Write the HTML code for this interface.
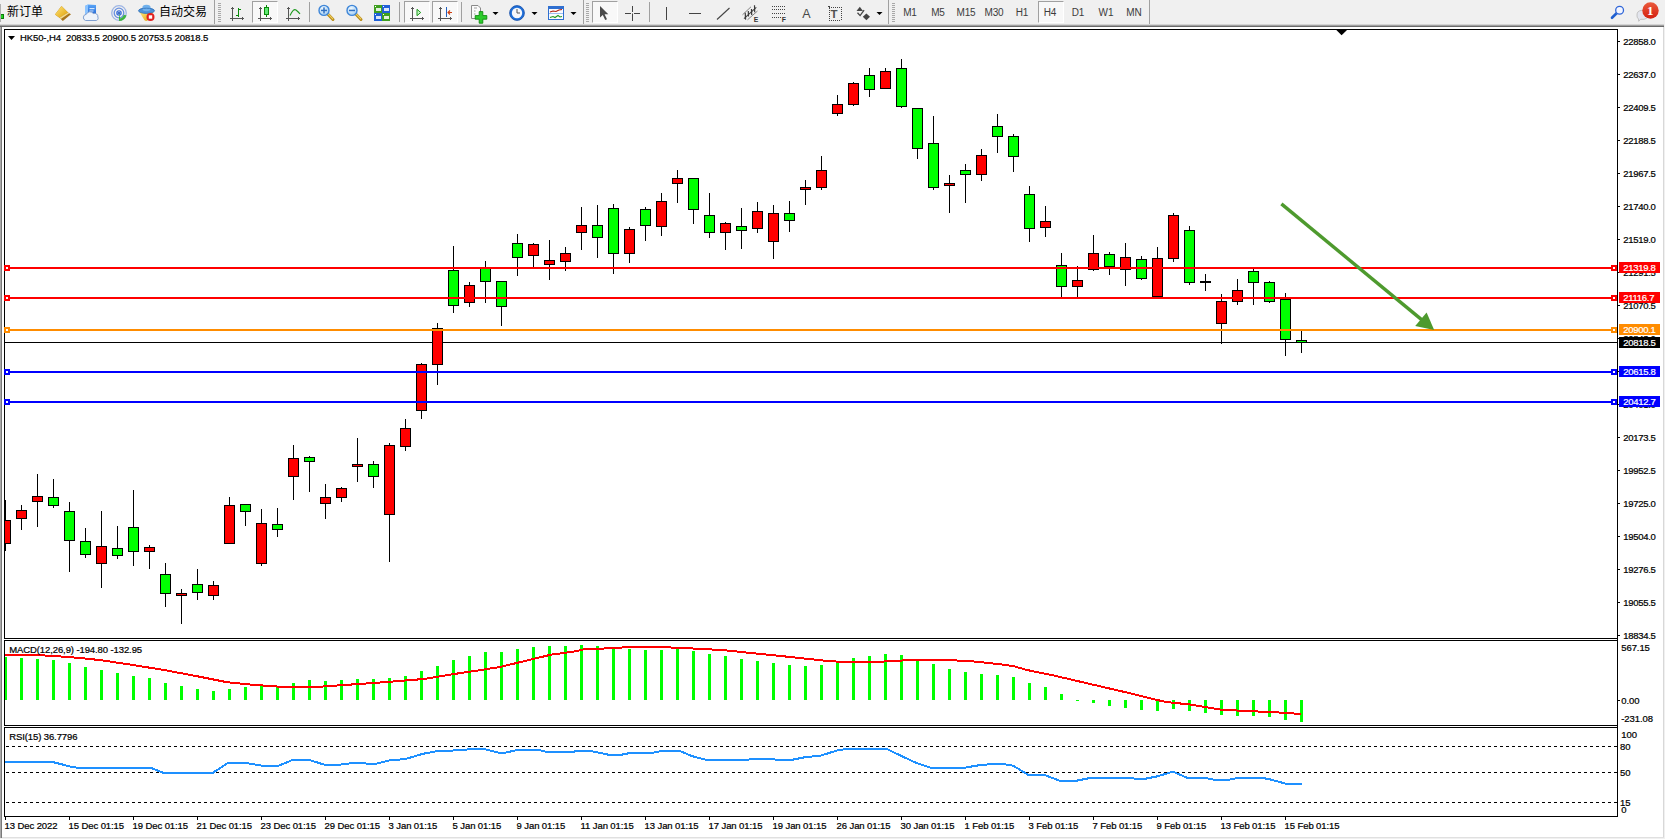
<!DOCTYPE html>
<html><head><meta charset="utf-8"><title>HK50-,H4</title>
<style>
html,body{margin:0;padding:0;background:#fff;}
body{width:1665px;height:839px;position:relative;overflow:hidden;font-family:"Liberation Sans","Noto Sans CJK SC",sans-serif;}
#tb{position:absolute;left:0;top:0;width:1665px;height:24px;background:#f0f0f0;}
#tbb{position:absolute;left:0;top:24px;width:1664px;height:3px;background:linear-gradient(#d4d4d4 0,#d4d4d4 33%,#a0a0a0 33%,#a0a0a0 66%,#696969 66%,#696969 100%);}
.cj{position:absolute;top:4px;font-size:12px;line-height:16px;color:#000;font-family:"Liberation Sans","Noto Sans CJK SC",sans-serif;white-space:nowrap;}
.tf{position:absolute;top:6px;width:28px;text-align:center;font-size:10px;line-height:14px;color:#3c3c3c;letter-spacing:-0.1px}
.pb{position:absolute;top:1px;height:20px;border-top:1px solid #a0a0a0;border-left:1px solid #a0a0a0;border-right:1px solid #fff;border-bottom:1px solid #fff;background:#f8f8f8;box-sizing:content-box}
.sep{position:absolute;top:2px;width:1px;height:20px;background:#a0a0a0}
.sepf{position:absolute;top:0;width:1px;height:24px;background:#a0a0a0}
.grip{position:absolute;top:3px;width:3px;height:19px;background:repeating-linear-gradient(#a8a8a8 0,#a8a8a8 1px,#f0f0f0 1px,#f0f0f0 2px)}
svg{position:absolute;left:0;top:0}
svg text{font-family:"Liberation Sans",sans-serif;font-size:9.5px;letter-spacing:-0.1px;fill:#000;stroke:#000;stroke-width:.22px}
svg text.wt{fill:#fff;stroke:#fff}
svg text.ns{stroke:none}
svg text.ax{letter-spacing:-0.3px}
</style></head><body>

<div id="tb">
<div class="cj" style="left:7px">新订单</div>
<div class="cj" style="left:159px">自动交易</div>
<div class="sepf" style="left:214px"></div>
<div class="sepf" style="left:583px"></div>
<div class="sepf" style="left:888px"></div>
<div class="sepf" style="left:1149px"></div>
<div class="sep" style="left:309px"></div>
<div class="sep" style="left:399px"></div>
<div class="sep" style="left:461px"></div>
<div class="sep" style="left:649px"></div>
<div class="grip" style="left:218px"></div>
<div class="grip" style="left:586px"></div>
<div class="grip" style="left:892px"></div>
<div class="pb" style="left:252px;width:24px"></div>
<div class="pb" style="left:404px;width:24px"></div>
<div class="pb" style="left:432px;width:24px"></div>
<div class="pb" style="left:592px;width:24px"></div>
<div class="pb" style="left:1038px;width:24px"></div>
<div class="tf" style="left:896px">M1</div>
<div class="tf" style="left:924px">M5</div>
<div class="tf" style="left:952px">M15</div>
<div class="tf" style="left:980px">M30</div>
<div class="tf" style="left:1008px">H1</div>
<div class="tf" style="left:1036px">H4</div>
<div class="tf" style="left:1064px">D1</div>
<div class="tf" style="left:1092px">W1</div>
<div class="tf" style="left:1120px">MN</div>
</div><div id="tbb"></div>
<svg width="1665" height="24" viewBox="0 0 1665 24">
<defs>
<linearGradient id="gold" x1="0" y1="0" x2="1" y2="1"><stop offset="0" stop-color="#ffe680"/><stop offset="0.7" stop-color="#e8b428"/><stop offset="1" stop-color="#c89020"/></linearGradient>
<linearGradient id="blu" x1="0" y1="0" x2="0" y2="1"><stop offset="0" stop-color="#5aa6f8"/><stop offset="1" stop-color="#1c5fd0"/></linearGradient>
<linearGradient id="grn" x1="0" y1="0" x2="1" y2="0"><stop offset="0" stop-color="#7df08a"/><stop offset="1" stop-color="#22c038"/></linearGradient>
<radialGradient id="lens" cx="0.4" cy="0.35" r="0.7"><stop offset="0" stop-color="#f4fbff"/><stop offset="1" stop-color="#9ccaf2"/></radialGradient>
<linearGradient id="redb" x1="0" y1="0" x2="0" y2="1"><stop offset="0" stop-color="#ea5a3c"/><stop offset="1" stop-color="#d42010"/></linearGradient>
</defs>
<rect x="0" y="14" width="4" height="5" fill="#0a7a0a"/><rect x="0" y="15" width="3" height="3" fill="#22d022"/><rect x="0" y="4" width="1" height="18" fill="#b0b0b0"/>
<polygon points="61.5,6 68,12.5 71,14.2 62.8,21 59.5,17.8 55,14.6" fill="#a8741a"/><polygon points="61.5,6 68,12.5 59.5,17.8 55,14.6" fill="url(#gold)"/><polygon points="68,12.5 69.3,13.3 60.8,19 59.5,17.8" fill="#f4dc90"/>
<polygon points="85,6 88,4.5 96,5 96,16 85,16" fill="url(#blu)"/><polygon points="85,6 88,4.5 88,16 85,16" fill="#8cc4ff"/><rect x="89.5" y="8" width="5" height="1.2" fill="#cfe6ff"/><rect x="89.5" y="10.5" width="4" height="1" fill="#cfe6ff"/>
<path d="M85.5 20.5 a3.2 3.2 0 0 1 0.8 -6.2 a4 4 0 0 1 7 -0.8 a3.4 3.4 0 0 1 4.6 3.6 a2.4 2.4 0 0 1 -1.6 3.4 z" fill="#eef3fa" stroke="#7f9fd0" stroke-width="1"/>
<g fill="none" stroke="#3a6fd8"><circle cx="119" cy="13" r="7.3" stroke-opacity="0.45" stroke-width="1.3"/><circle cx="119" cy="13" r="4.8" stroke-opacity="0.75" stroke-width="1.3"/><circle cx="119" cy="13" r="2.1" stroke-width="1.4"/></g>
<path d="M119 13 L119 21 A8 8 0 0 0 126.5 15.5 L124 14.8 A5.4 5.4 0 0 1 120.2 18.4 Z" fill="#2fb02f" opacity="0.9"/><circle cx="119" cy="13" r="1.1" fill="#1a4fc0"/>
<path d="M139.5 12 L153.5 12 L147.5 20.5 Q146 21.5 144.5 20.2 Z" fill="url(#gold)"/><ellipse cx="146.5" cy="10.5" rx="8" ry="3" fill="#4f93d8"/><ellipse cx="146.5" cy="8" rx="4.2" ry="3.2" fill="#6fb0ec"/><ellipse cx="146.5" cy="10.8" rx="8" ry="2.6" fill="none" stroke="#2f6fb8" stroke-width="0.8"/>
<circle cx="150.5" cy="17" r="4" fill="#e02020"/><rect x="148.8" y="15.3" width="3.4" height="3.4" fill="#fff"/>
<g fill="#555" shape-rendering="crispEdges"><rect x="232" y="7" width="1" height="14"/><rect x="231" y="8" width="3" height="1"/><rect x="230" y="18" width="14" height="1"/><rect x="242" y="17" width="1" height="3"/></g>
<g fill="#0a8a0a" shape-rendering="crispEdges"><rect x="238" y="8" width="1" height="9"/><rect x="239" y="9" width="2" height="1"/><rect x="236" y="15" width="2" height="1"/></g>
<g fill="#555" shape-rendering="crispEdges"><rect x="260" y="7" width="1" height="14"/><rect x="259" y="8" width="3" height="1"/><rect x="258" y="18" width="14" height="1"/><rect x="270" y="17" width="1" height="3"/></g>
<g shape-rendering="crispEdges"><rect x="266" y="5" width="1" height="12" fill="#0a8a0a"/><rect x="264" y="7" width="5" height="8" fill="#0a8a0a"/><rect x="265" y="8" width="3" height="6" fill="#5fe873"/></g>
<g fill="#555" shape-rendering="crispEdges"><rect x="288" y="7" width="1" height="14"/><rect x="287" y="8" width="3" height="1"/><rect x="286" y="18" width="14" height="1"/><rect x="298" y="17" width="1" height="3"/></g>
<path d="M290 15.5 Q293.5 8 296 10 T300 14" fill="none" stroke="#1f9a1f" stroke-width="1.1"/>
<line x1="327.5" y1="13.8" x2="333" y2="19.5" stroke="#b88a18" stroke-width="3" stroke-linecap="round"/><line x1="327.8" y1="13.6" x2="332.8" y2="18.8" stroke="#f0d060" stroke-width="1.2" stroke-linecap="round"/><circle cx="324" cy="10.4" r="5" fill="url(#lens)" stroke="#3f86d8" stroke-width="1.4"/><rect x="321" y="9.7" width="6" height="1.5" fill="#2f6fc0"/><rect x="323.25" y="7.4" width="1.5" height="6" fill="#2f6fc0"/>
<line x1="355.5" y1="13.8" x2="361" y2="19.5" stroke="#b88a18" stroke-width="3" stroke-linecap="round"/><line x1="355.8" y1="13.6" x2="360.8" y2="18.8" stroke="#f0d060" stroke-width="1.2" stroke-linecap="round"/><circle cx="352" cy="10.4" r="5" fill="url(#lens)" stroke="#3f86d8" stroke-width="1.4"/><rect x="349" y="9.7" width="6" height="1.5" fill="#2f6fc0"/>
<g shape-rendering="crispEdges"><rect x="374" y="5" width="8" height="8" fill="#3fa020"/><rect x="382" y="5" width="8" height="8" fill="#2060d8"/><rect x="374" y="13" width="8" height="8" fill="#2060d8"/><rect x="382" y="13" width="8" height="8" fill="#3fa020"/>
<rect x="376" y="8" width="5" height="3" fill="#fff" fill-opacity="0.85"/><rect x="375" y="6" width="1" height="1" fill="#fff"/>
<rect x="384" y="8" width="5" height="3" fill="#fff" fill-opacity="0.85"/><rect x="383" y="6" width="1" height="1" fill="#fff"/>
<rect x="376" y="16" width="5" height="3" fill="#fff" fill-opacity="0.85"/><rect x="375" y="14" width="1" height="1" fill="#fff"/>
<rect x="384" y="16" width="5" height="3" fill="#fff" fill-opacity="0.85"/><rect x="383" y="14" width="1" height="1" fill="#fff"/>
</g>
<g fill="#555" shape-rendering="crispEdges"><rect x="412" y="7" width="1" height="14"/><rect x="411" y="8" width="3" height="1"/><rect x="410" y="18" width="14" height="1"/><rect x="422" y="17" width="1" height="3"/></g>
<polygon points="417,9.3 417,15.7 420.7,12.5" fill="#c8f4c8" stroke="#1a9a1a" stroke-width="1"/>
<g fill="#555" shape-rendering="crispEdges"><rect x="440" y="7" width="1" height="14"/><rect x="439" y="8" width="3" height="1"/><rect x="438" y="18" width="14" height="1"/><rect x="450" y="17" width="1" height="3"/></g>
<rect x="446" y="7" width="1" height="10" fill="#2060c0" shape-rendering="crispEdges"/><path d="M452 12.5 L448 12.5 M450 10.5 L448 12.5 L450 14.5" stroke="#d04010" stroke-width="1.1" fill="none"/>
<path d="M471.5 5.5 h6.5 l2.5 2.5 v10.5 h-9 z" fill="#fafafa" stroke="#8a8a8a" stroke-width="1"/><path d="M474 8 h3 M474 11 h1.5 M474 14 h1.5" stroke="#a0a0a0" stroke-width="1"/>
<path d="M479.2 11.6 h3.6 v4 h4 v3.6 h-4 v4 h-3.6 v-4 h-4 v-3.6 h4 z" fill="#2ccc2c" stroke="#0f8a0f" stroke-width="0.9"/>
<polygon points="492.5,12 498.5,12 495.5,15" fill="#000"/>
<polygon points="531.5,12 537.5,12 534.5,15" fill="#000"/>
<polygon points="570.5,12 576.5,12 573.5,15" fill="#000"/>
<polygon points="876.5,12 882.5,12 879.5,15" fill="#000"/>
<circle cx="517" cy="13" r="7.4" fill="#1f6fd8"/><circle cx="517" cy="13" r="7.4" fill="none" stroke="#184fa8" stroke-width="0.8"/><circle cx="517" cy="13" r="5.2" fill="#f6f8fc"/><path d="M517 9 v4 h3" stroke="#555" stroke-width="1" fill="none"/>
<rect x="548.5" y="6.5" width="15" height="13" fill="#fafcff" stroke="#2f6fd0" stroke-width="1"/><rect x="548" y="6" width="16" height="3" fill="#2f6fd0"/><rect x="549" y="13" width="14" height="1" fill="#9cc0f0"/>
<path d="M550 12 l3 -1 l3 0.5 l3 -1.5 l3 -0.5" stroke="#b02010" stroke-width="1.1" fill="none"/><path d="M550 17.5 l3 -1 l2 1 l3 -2 l2 1.5 l2 -0.5" stroke="#1f9a1f" stroke-width="1.1" fill="none"/>
<polygon points="600,6 600,17.5 602.8,15 605.2,20 607,19.2 604.6,14.3 608.3,14.3" fill="#4a4a4a"/>
<g fill="#444" shape-rendering="crispEdges"><rect x="632" y="6" width="1" height="6"/><rect x="632" y="14" width="1" height="7"/><rect x="625" y="13" width="6" height="1"/><rect x="634" y="13" width="6" height="1"/><rect x="632" y="13" width="1" height="1" fill="#999"/></g>
<rect x="666" y="7" width="1" height="13" fill="#444" shape-rendering="crispEdges"/><rect x="689" y="13" width="12" height="1" fill="#444" shape-rendering="crispEdges"/><line x1="717" y1="19.5" x2="729.5" y2="8" stroke="#444" stroke-width="1.1"/>
<g fill="none"><line x1="742.5" y1="14.8" x2="751" y2="6.8" stroke="#777" stroke-width="0.9"/><line x1="747.5" y1="19.8" x2="757.5" y2="11" stroke="#777" stroke-width="0.9"/><line x1="744" y1="18.7" x2="756.3" y2="7.4" stroke="#444" stroke-width="1.1"/>
<g stroke="#3a3a3a" stroke-width="1.2"><line x1="745.6" y1="19.6" x2="745.2" y2="12.8"/><line x1="748.5" y1="16.6" x2="748.3" y2="11"/><line x1="751.7" y1="15" x2="751.5" y2="9"/><line x1="754.7" y1="12.3" x2="754.5" y2="5.2"/></g></g>
<text class="ns" x="753.8" y="22" style="font-size:6.8px;font-weight:bold;fill:#333;letter-spacing:0">E</text>
<line x1="772" y1="6.5" x2="786" y2="6.5" stroke="#444" stroke-width="1" stroke-dasharray="1 1" shape-rendering="crispEdges"/>
<line x1="772" y1="9.5" x2="786" y2="9.5" stroke="#444" stroke-width="1" stroke-dasharray="1 1" shape-rendering="crispEdges"/>
<line x1="772" y1="13.5" x2="786" y2="13.5" stroke="#444" stroke-width="1" stroke-dasharray="1 1" shape-rendering="crispEdges"/>
<line x1="772" y1="17.5" x2="781" y2="17.5" stroke="#444" stroke-width="1" stroke-dasharray="1 1" shape-rendering="crispEdges"/>
<text class="ns" x="781.8" y="22" style="font-size:6.8px;font-weight:bold;fill:#333;letter-spacing:0">F</text>
<text class="ns" x="802.3" y="17.7" style="font-size:12.5px;fill:#484848;letter-spacing:0">A</text>
<rect x="829" y="7" width="12" height="13" fill="none" stroke="#444" stroke-width="1" stroke-dasharray="1 1" shape-rendering="crispEdges"/><rect x="828" y="6" width="2" height="1" fill="#444"/>
<text class="ns" x="830.6" y="17.7" style="font-size:11.5px;fill:#505050;letter-spacing:0;font-weight:bold">T</text>
<polygon points="856.5,11 859.8,6.8 863,11" fill="#444"/><path d="M857.5 12.8 l2.6 2.8 l4 -5.4" stroke="#444" stroke-width="1.3" fill="none"/><polygon points="866.4,13.6 870,16.8 866.4,20.2 862.8,16.8" fill="#444"/>
<line x1="1612" y1="17.8" x2="1616.6" y2="13.3" stroke="#1f5fd0" stroke-width="2.6" stroke-linecap="round"/><circle cx="1619.6" cy="10.3" r="3.9" fill="#f4f6ff" stroke="#2f66d8" stroke-width="1.3"/>
<path d="M1637 15 a5.5 4.6 0 1 1 7 4.3 h-3.5 l-1.8 2 l-0.2 -2.3 a5 4.5 0 0 1 -1.5 -4 z" fill="#e4e6ee" stroke="#b8b8b8" stroke-width="0.8"/>
<circle cx="1650.5" cy="10.5" r="8.2" fill="url(#redb)"/><text class="ns" x="1647" y="15" style="font-family:'Liberation Serif',serif;font-size:13px;font-weight:bold;fill:#fff;letter-spacing:0">1</text>
</svg>
<svg width="1665" height="839" viewBox="0 0 1665 839">
<g shape-rendering="crispEdges">
<rect x="0" y="27" width="1" height="811" fill="#a9a9a9"/><rect x="1" y="27" width="1" height="811" fill="#7a7a7a"/>
<rect x="1663" y="27" width="1" height="811" fill="#d8d8d8"/><rect x="1664" y="24" width="1" height="815" fill="#f0f0f0"/><rect x="2" y="837" width="1662" height="1" fill="#e0e0e0"/><rect x="0" y="838" width="1665" height="1" fill="#f0f0f0"/>
<rect x="4" y="29" width="1614" height="1" fill="#000"/><rect x="4" y="638" width="1614" height="1" fill="#000"/>
<rect x="4" y="640" width="1614" height="1" fill="#000"/><rect x="4" y="725" width="1614" height="1" fill="#000"/>
<rect x="4" y="727" width="1614" height="1" fill="#000"/><rect x="4" y="816" width="1614" height="1" fill="#000"/>
<rect x="4" y="29" width="1" height="610" fill="#000"/><rect x="4" y="640" width="1" height="86" fill="#000"/><rect x="4" y="727" width="1" height="90" fill="#000"/>
<rect x="1617" y="29" width="1" height="788" fill="#000"/>
<rect x="1618" y="41" width="2" height="1" fill="#000"/>
<rect x="1618" y="74" width="2" height="1" fill="#000"/>
<rect x="1618" y="107" width="2" height="1" fill="#000"/>
<rect x="1618" y="140" width="2" height="1" fill="#000"/>
<rect x="1618" y="173" width="2" height="1" fill="#000"/>
<rect x="1618" y="206" width="2" height="1" fill="#000"/>
<rect x="1618" y="239" width="2" height="1" fill="#000"/>
<rect x="1618" y="272" width="2" height="1" fill="#000"/>
<rect x="1618" y="305" width="2" height="1" fill="#000"/>
<rect x="1618" y="338" width="2" height="1" fill="#000"/>
<rect x="1618" y="371" width="2" height="1" fill="#000"/>
<rect x="1618" y="404" width="2" height="1" fill="#000"/>
<rect x="1618" y="437" width="2" height="1" fill="#000"/>
<rect x="1618" y="470" width="2" height="1" fill="#000"/>
<rect x="1618" y="503" width="2" height="1" fill="#000"/>
<rect x="1618" y="536" width="2" height="1" fill="#000"/>
<rect x="1618" y="569" width="2" height="1" fill="#000"/>
<rect x="1618" y="602" width="2" height="1" fill="#000"/>
<rect x="1618" y="635" width="2" height="1" fill="#000"/>
<rect x="1618" y="700" width="2" height="1" fill="#000"/>
<rect x="5" y="817" width="1" height="3" fill="#000"/>
<rect x="69" y="817" width="1" height="3" fill="#000"/>
<rect x="133" y="817" width="1" height="3" fill="#000"/>
<rect x="197" y="817" width="1" height="3" fill="#000"/>
<rect x="261" y="817" width="1" height="3" fill="#000"/>
<rect x="325" y="817" width="1" height="3" fill="#000"/>
<rect x="389" y="817" width="1" height="3" fill="#000"/>
<rect x="453" y="817" width="1" height="3" fill="#000"/>
<rect x="517" y="817" width="1" height="3" fill="#000"/>
<rect x="581" y="817" width="1" height="3" fill="#000"/>
<rect x="645" y="817" width="1" height="3" fill="#000"/>
<rect x="709" y="817" width="1" height="3" fill="#000"/>
<rect x="773" y="817" width="1" height="3" fill="#000"/>
<rect x="837" y="817" width="1" height="3" fill="#000"/>
<rect x="901" y="817" width="1" height="3" fill="#000"/>
<rect x="965" y="817" width="1" height="3" fill="#000"/>
<rect x="1029" y="817" width="1" height="3" fill="#000"/>
<rect x="1093" y="817" width="1" height="3" fill="#000"/>
<rect x="1157" y="817" width="1" height="3" fill="#000"/>
<rect x="1221" y="817" width="1" height="3" fill="#000"/>
<rect x="1285" y="817" width="1" height="3" fill="#000"/>
<polygon points="1336.3,30 1347,30 1341.6,35.3" fill="#000" shape-rendering="auto"/>
<rect x="5" y="342" width="1612" height="1" fill="#000"/>
</g>
<defs><clipPath id="cm"><rect x="5" y="30" width="1612" height="608"/></clipPath><clipPath id="c2"><rect x="5" y="641" width="1612" height="84"/></clipPath><clipPath id="c3"><rect x="5" y="728" width="1612" height="88"/></clipPath></defs>
<g shape-rendering="crispEdges" clip-path="url(#cm)">
<rect x="5" y="500" width="1" height="51" fill="#000"/>
<rect x="0" y="520" width="11" height="24" fill="#000"/>
<rect x="1" y="521" width="9" height="22" fill="#f00"/>
<rect x="21" y="505" width="1" height="25" fill="#000"/>
<rect x="16" y="510" width="11" height="9" fill="#000"/>
<rect x="17" y="511" width="9" height="7" fill="#f00"/>
<rect x="37" y="474" width="1" height="53" fill="#000"/>
<rect x="32" y="496" width="11" height="6" fill="#000"/>
<rect x="33" y="497" width="9" height="4" fill="#f00"/>
<rect x="53" y="479" width="1" height="29" fill="#000"/>
<rect x="48" y="497" width="11" height="9" fill="#000"/>
<rect x="49" y="498" width="9" height="7" fill="#0f0"/>
<rect x="69" y="502" width="1" height="70" fill="#000"/>
<rect x="64" y="511" width="11" height="30" fill="#000"/>
<rect x="65" y="512" width="9" height="28" fill="#0f0"/>
<rect x="85" y="528" width="1" height="30" fill="#000"/>
<rect x="80" y="541" width="11" height="14" fill="#000"/>
<rect x="81" y="542" width="9" height="12" fill="#0f0"/>
<rect x="101" y="511" width="1" height="77" fill="#000"/>
<rect x="96" y="546" width="11" height="18" fill="#000"/>
<rect x="97" y="547" width="9" height="16" fill="#f00"/>
<rect x="117" y="526" width="1" height="33" fill="#000"/>
<rect x="112" y="548" width="11" height="8" fill="#000"/>
<rect x="113" y="549" width="9" height="6" fill="#0f0"/>
<rect x="133" y="490" width="1" height="76" fill="#000"/>
<rect x="128" y="527" width="11" height="25" fill="#000"/>
<rect x="129" y="528" width="9" height="23" fill="#0f0"/>
<rect x="149" y="545" width="1" height="24" fill="#000"/>
<rect x="144" y="547" width="11" height="5" fill="#000"/>
<rect x="145" y="548" width="9" height="3" fill="#f00"/>
<rect x="165" y="563" width="1" height="44" fill="#000"/>
<rect x="160" y="574" width="11" height="20" fill="#000"/>
<rect x="161" y="575" width="9" height="18" fill="#0f0"/>
<rect x="181" y="589" width="1" height="35" fill="#000"/>
<rect x="176" y="593" width="11" height="3" fill="#000"/>
<rect x="177" y="594" width="9" height="1" fill="#f00"/>
<rect x="197" y="569" width="1" height="31" fill="#000"/>
<rect x="192" y="584" width="11" height="9" fill="#000"/>
<rect x="193" y="585" width="9" height="7" fill="#0f0"/>
<rect x="213" y="581" width="1" height="19" fill="#000"/>
<rect x="208" y="585" width="11" height="11" fill="#000"/>
<rect x="209" y="586" width="9" height="9" fill="#f00"/>
<rect x="229" y="497" width="1" height="47" fill="#000"/>
<rect x="224" y="505" width="11" height="39" fill="#000"/>
<rect x="225" y="506" width="9" height="37" fill="#f00"/>
<rect x="245" y="504" width="1" height="22" fill="#000"/>
<rect x="240" y="504" width="11" height="8" fill="#000"/>
<rect x="241" y="505" width="9" height="6" fill="#0f0"/>
<rect x="261" y="509" width="1" height="57" fill="#000"/>
<rect x="256" y="523" width="11" height="41" fill="#000"/>
<rect x="257" y="524" width="9" height="39" fill="#f00"/>
<rect x="277" y="508" width="1" height="29" fill="#000"/>
<rect x="272" y="524" width="11" height="6" fill="#000"/>
<rect x="273" y="525" width="9" height="4" fill="#0f0"/>
<rect x="293" y="445" width="1" height="55" fill="#000"/>
<rect x="288" y="458" width="11" height="19" fill="#000"/>
<rect x="289" y="459" width="9" height="17" fill="#f00"/>
<rect x="309" y="456" width="1" height="36" fill="#000"/>
<rect x="304" y="457" width="11" height="5" fill="#000"/>
<rect x="305" y="458" width="9" height="3" fill="#0f0"/>
<rect x="325" y="484" width="1" height="35" fill="#000"/>
<rect x="320" y="497" width="11" height="7" fill="#000"/>
<rect x="321" y="498" width="9" height="5" fill="#f00"/>
<rect x="341" y="487" width="1" height="15" fill="#000"/>
<rect x="336" y="488" width="11" height="10" fill="#000"/>
<rect x="337" y="489" width="9" height="8" fill="#f00"/>
<rect x="357" y="438" width="1" height="44" fill="#000"/>
<rect x="352" y="464" width="11" height="3" fill="#000"/>
<rect x="353" y="465" width="9" height="1" fill="#f00"/>
<rect x="373" y="461" width="1" height="27" fill="#000"/>
<rect x="368" y="464" width="11" height="13" fill="#000"/>
<rect x="369" y="465" width="9" height="11" fill="#0f0"/>
<rect x="389" y="443" width="1" height="119" fill="#000"/>
<rect x="384" y="445" width="11" height="70" fill="#000"/>
<rect x="385" y="446" width="9" height="68" fill="#f00"/>
<rect x="405" y="419" width="1" height="32" fill="#000"/>
<rect x="400" y="428" width="11" height="19" fill="#000"/>
<rect x="401" y="429" width="9" height="17" fill="#f00"/>
<rect x="421" y="363" width="1" height="56" fill="#000"/>
<rect x="416" y="364" width="11" height="47" fill="#000"/>
<rect x="417" y="365" width="9" height="45" fill="#f00"/>
<rect x="437" y="323" width="1" height="62" fill="#000"/>
<rect x="432" y="328" width="11" height="37" fill="#000"/>
<rect x="433" y="329" width="9" height="35" fill="#f00"/>
<rect x="453" y="246" width="1" height="67" fill="#000"/>
<rect x="448" y="270" width="11" height="36" fill="#000"/>
<rect x="449" y="271" width="9" height="34" fill="#0f0"/>
<rect x="469" y="282" width="1" height="25" fill="#000"/>
<rect x="464" y="285" width="11" height="18" fill="#000"/>
<rect x="465" y="286" width="9" height="16" fill="#f00"/>
<rect x="485" y="261" width="1" height="42" fill="#000"/>
<rect x="480" y="268" width="11" height="14" fill="#000"/>
<rect x="481" y="269" width="9" height="12" fill="#0f0"/>
<rect x="501" y="281" width="1" height="45" fill="#000"/>
<rect x="496" y="281" width="11" height="26" fill="#000"/>
<rect x="497" y="282" width="9" height="24" fill="#0f0"/>
<rect x="517" y="234" width="1" height="42" fill="#000"/>
<rect x="512" y="243" width="11" height="15" fill="#000"/>
<rect x="513" y="244" width="9" height="13" fill="#0f0"/>
<rect x="533" y="243" width="1" height="24" fill="#000"/>
<rect x="528" y="244" width="11" height="12" fill="#000"/>
<rect x="529" y="245" width="9" height="10" fill="#f00"/>
<rect x="549" y="240" width="1" height="40" fill="#000"/>
<rect x="544" y="260" width="11" height="5" fill="#000"/>
<rect x="545" y="261" width="9" height="3" fill="#f00"/>
<rect x="565" y="247" width="1" height="24" fill="#000"/>
<rect x="560" y="253" width="11" height="9" fill="#000"/>
<rect x="561" y="254" width="9" height="7" fill="#f00"/>
<rect x="581" y="207" width="1" height="43" fill="#000"/>
<rect x="576" y="225" width="11" height="8" fill="#000"/>
<rect x="577" y="226" width="9" height="6" fill="#f00"/>
<rect x="597" y="205" width="1" height="53" fill="#000"/>
<rect x="592" y="225" width="11" height="13" fill="#000"/>
<rect x="593" y="226" width="9" height="11" fill="#0f0"/>
<rect x="613" y="204" width="1" height="70" fill="#000"/>
<rect x="608" y="208" width="11" height="46" fill="#000"/>
<rect x="609" y="209" width="9" height="44" fill="#0f0"/>
<rect x="629" y="227" width="1" height="36" fill="#000"/>
<rect x="624" y="229" width="11" height="25" fill="#000"/>
<rect x="625" y="230" width="9" height="23" fill="#f00"/>
<rect x="645" y="207" width="1" height="34" fill="#000"/>
<rect x="640" y="209" width="11" height="17" fill="#000"/>
<rect x="641" y="210" width="9" height="15" fill="#0f0"/>
<rect x="661" y="193" width="1" height="43" fill="#000"/>
<rect x="656" y="201" width="11" height="26" fill="#000"/>
<rect x="657" y="202" width="9" height="24" fill="#f00"/>
<rect x="677" y="170" width="1" height="33" fill="#000"/>
<rect x="672" y="178" width="11" height="6" fill="#000"/>
<rect x="673" y="179" width="9" height="4" fill="#f00"/>
<rect x="693" y="178" width="1" height="46" fill="#000"/>
<rect x="688" y="178" width="11" height="32" fill="#000"/>
<rect x="689" y="179" width="9" height="30" fill="#0f0"/>
<rect x="709" y="193" width="1" height="45" fill="#000"/>
<rect x="704" y="215" width="11" height="18" fill="#000"/>
<rect x="705" y="216" width="9" height="16" fill="#0f0"/>
<rect x="725" y="222" width="1" height="28" fill="#000"/>
<rect x="720" y="223" width="11" height="10" fill="#000"/>
<rect x="721" y="224" width="9" height="8" fill="#f00"/>
<rect x="741" y="208" width="1" height="41" fill="#000"/>
<rect x="736" y="226" width="11" height="5" fill="#000"/>
<rect x="737" y="227" width="9" height="3" fill="#0f0"/>
<rect x="757" y="202" width="1" height="31" fill="#000"/>
<rect x="752" y="211" width="11" height="18" fill="#000"/>
<rect x="753" y="212" width="9" height="16" fill="#f00"/>
<rect x="773" y="205" width="1" height="54" fill="#000"/>
<rect x="768" y="213" width="11" height="29" fill="#000"/>
<rect x="769" y="214" width="9" height="27" fill="#f00"/>
<rect x="789" y="201" width="1" height="31" fill="#000"/>
<rect x="784" y="213" width="11" height="8" fill="#000"/>
<rect x="785" y="214" width="9" height="6" fill="#0f0"/>
<rect x="805" y="180" width="1" height="25" fill="#000"/>
<rect x="800" y="187" width="11" height="3" fill="#000"/>
<rect x="801" y="188" width="9" height="1" fill="#f00"/>
<rect x="821" y="156" width="1" height="34" fill="#000"/>
<rect x="816" y="170" width="11" height="18" fill="#000"/>
<rect x="817" y="171" width="9" height="16" fill="#f00"/>
<rect x="837" y="95" width="1" height="21" fill="#000"/>
<rect x="832" y="104" width="11" height="10" fill="#000"/>
<rect x="833" y="105" width="9" height="8" fill="#f00"/>
<rect x="853" y="82" width="1" height="24" fill="#000"/>
<rect x="848" y="83" width="11" height="22" fill="#000"/>
<rect x="849" y="84" width="9" height="20" fill="#f00"/>
<rect x="869" y="68" width="1" height="29" fill="#000"/>
<rect x="864" y="75" width="11" height="15" fill="#000"/>
<rect x="865" y="76" width="9" height="13" fill="#0f0"/>
<rect x="885" y="68" width="1" height="21" fill="#000"/>
<rect x="880" y="71" width="11" height="18" fill="#000"/>
<rect x="881" y="72" width="9" height="16" fill="#f00"/>
<rect x="901" y="59" width="1" height="49" fill="#000"/>
<rect x="896" y="68" width="11" height="39" fill="#000"/>
<rect x="897" y="69" width="9" height="37" fill="#0f0"/>
<rect x="917" y="108" width="1" height="51" fill="#000"/>
<rect x="912" y="108" width="11" height="41" fill="#000"/>
<rect x="913" y="109" width="9" height="39" fill="#0f0"/>
<rect x="933" y="116" width="1" height="74" fill="#000"/>
<rect x="928" y="143" width="11" height="45" fill="#000"/>
<rect x="929" y="144" width="9" height="43" fill="#0f0"/>
<rect x="949" y="175" width="1" height="38" fill="#000"/>
<rect x="944" y="183" width="11" height="3" fill="#000"/>
<rect x="945" y="184" width="9" height="1" fill="#f00"/>
<rect x="965" y="164" width="1" height="39" fill="#000"/>
<rect x="960" y="170" width="11" height="5" fill="#000"/>
<rect x="961" y="171" width="9" height="3" fill="#0f0"/>
<rect x="981" y="149" width="1" height="32" fill="#000"/>
<rect x="976" y="155" width="11" height="20" fill="#000"/>
<rect x="977" y="156" width="9" height="18" fill="#f00"/>
<rect x="997" y="114" width="1" height="39" fill="#000"/>
<rect x="992" y="126" width="11" height="11" fill="#000"/>
<rect x="993" y="127" width="9" height="9" fill="#0f0"/>
<rect x="1013" y="134" width="1" height="38" fill="#000"/>
<rect x="1008" y="136" width="11" height="21" fill="#000"/>
<rect x="1009" y="137" width="9" height="19" fill="#0f0"/>
<rect x="1029" y="186" width="1" height="56" fill="#000"/>
<rect x="1024" y="194" width="11" height="35" fill="#000"/>
<rect x="1025" y="195" width="9" height="33" fill="#0f0"/>
<rect x="1045" y="206" width="1" height="31" fill="#000"/>
<rect x="1040" y="221" width="11" height="7" fill="#000"/>
<rect x="1041" y="222" width="9" height="5" fill="#f00"/>
<rect x="1061" y="253" width="1" height="44" fill="#000"/>
<rect x="1056" y="265" width="11" height="22" fill="#000"/>
<rect x="1057" y="266" width="9" height="20" fill="#0f0"/>
<rect x="1077" y="266" width="1" height="31" fill="#000"/>
<rect x="1072" y="280" width="11" height="7" fill="#000"/>
<rect x="1073" y="281" width="9" height="5" fill="#f00"/>
<rect x="1093" y="235" width="1" height="36" fill="#000"/>
<rect x="1088" y="253" width="11" height="17" fill="#000"/>
<rect x="1089" y="254" width="9" height="15" fill="#f00"/>
<rect x="1109" y="252" width="1" height="23" fill="#000"/>
<rect x="1104" y="254" width="11" height="13" fill="#000"/>
<rect x="1105" y="255" width="9" height="11" fill="#0f0"/>
<rect x="1125" y="243" width="1" height="43" fill="#000"/>
<rect x="1120" y="257" width="11" height="13" fill="#000"/>
<rect x="1121" y="258" width="9" height="11" fill="#f00"/>
<rect x="1141" y="256" width="1" height="24" fill="#000"/>
<rect x="1136" y="259" width="11" height="20" fill="#000"/>
<rect x="1137" y="260" width="9" height="18" fill="#0f0"/>
<rect x="1157" y="247" width="1" height="50" fill="#000"/>
<rect x="1152" y="258" width="11" height="39" fill="#000"/>
<rect x="1153" y="259" width="9" height="37" fill="#f00"/>
<rect x="1173" y="213" width="1" height="49" fill="#000"/>
<rect x="1168" y="215" width="11" height="44" fill="#000"/>
<rect x="1169" y="216" width="9" height="42" fill="#f00"/>
<rect x="1189" y="226" width="1" height="59" fill="#000"/>
<rect x="1184" y="230" width="11" height="53" fill="#000"/>
<rect x="1185" y="231" width="9" height="51" fill="#0f0"/>
<rect x="1205" y="274" width="1" height="17" fill="#000"/>
<rect x="1200" y="281" width="11" height="2" fill="#000"/>
<rect x="1221" y="294" width="1" height="50" fill="#000"/>
<rect x="1216" y="301" width="11" height="23" fill="#000"/>
<rect x="1217" y="302" width="9" height="21" fill="#f00"/>
<rect x="1237" y="279" width="1" height="26" fill="#000"/>
<rect x="1232" y="290" width="11" height="12" fill="#000"/>
<rect x="1233" y="291" width="9" height="10" fill="#f00"/>
<rect x="1253" y="269" width="1" height="36" fill="#000"/>
<rect x="1248" y="271" width="11" height="12" fill="#000"/>
<rect x="1249" y="272" width="9" height="10" fill="#0f0"/>
<rect x="1269" y="281" width="1" height="22" fill="#000"/>
<rect x="1264" y="282" width="11" height="20" fill="#000"/>
<rect x="1265" y="283" width="9" height="18" fill="#0f0"/>
<rect x="1285" y="293" width="1" height="63" fill="#000"/>
<rect x="1280" y="299" width="11" height="41" fill="#000"/>
<rect x="1281" y="300" width="9" height="39" fill="#0f0"/>
<rect x="1301" y="331" width="1" height="22" fill="#000"/>
<rect x="1296" y="340" width="11" height="3" fill="#000"/>
<rect x="1297" y="341" width="9" height="1" fill="#0f0"/>
</g>
<g shape-rendering="crispEdges">
<rect x="5" y="267" width="1612" height="2" fill="#f00"/>
<rect x="4" y="265" width="6" height="6" fill="#f00"/><rect x="6" y="267" width="2" height="2" fill="#fff"/>
<rect x="1611" y="265" width="6" height="6" fill="#f00"/><rect x="1613" y="267" width="2" height="2" fill="#fff"/>
<rect x="5" y="297" width="1612" height="2" fill="#f00"/>
<rect x="4" y="295" width="6" height="6" fill="#f00"/><rect x="6" y="297" width="2" height="2" fill="#fff"/>
<rect x="1611" y="295" width="6" height="6" fill="#f00"/><rect x="1613" y="297" width="2" height="2" fill="#fff"/>
<rect x="5" y="329" width="1612" height="2" fill="#ff8c00"/>
<rect x="4" y="327" width="6" height="6" fill="#ff8c00"/><rect x="6" y="329" width="2" height="2" fill="#fff"/>
<rect x="1611" y="327" width="6" height="6" fill="#ff8c00"/><rect x="1613" y="329" width="2" height="2" fill="#fff"/>
<rect x="5" y="371" width="1612" height="2" fill="#00f"/>
<rect x="4" y="369" width="6" height="6" fill="#00f"/><rect x="6" y="371" width="2" height="2" fill="#fff"/>
<rect x="1611" y="369" width="6" height="6" fill="#00f"/><rect x="1613" y="371" width="2" height="2" fill="#fff"/>
<rect x="5" y="401" width="1612" height="2" fill="#00f"/>
<rect x="4" y="399" width="6" height="6" fill="#00f"/><rect x="6" y="401" width="2" height="2" fill="#fff"/>
<rect x="1611" y="399" width="6" height="6" fill="#00f"/><rect x="1613" y="401" width="2" height="2" fill="#fff"/>
</g>
<g><line x1="1281.4" y1="203.9" x2="1424" y2="321.6" stroke="#4e9a2e" stroke-width="3.4"/><polygon points="1434.2,330 1426.6,312.6 1415.2,326" fill="#4e9a2e"/></g>
<text class="ax" x="1623.3" y="44.6">22858.0</text>
<text class="ax" x="1623.3" y="77.6">22637.0</text>
<text class="ax" x="1623.3" y="110.6">22409.5</text>
<text class="ax" x="1623.3" y="143.6">22188.5</text>
<text class="ax" x="1623.3" y="176.6">21967.5</text>
<text class="ax" x="1623.3" y="209.6">21740.0</text>
<text class="ax" x="1623.3" y="242.6">21519.0</text>
<text class="ax" x="1623.3" y="275.6">21291.5</text>
<text class="ax" x="1623.3" y="308.6">21070.5</text>
<text class="ax" x="1623.3" y="341.6">20843.0</text>
<text class="ax" x="1623.3" y="374.6">20622.0</text>
<text class="ax" x="1623.3" y="407.6">20401.0</text>
<text class="ax" x="1623.3" y="440.6">20173.5</text>
<text class="ax" x="1623.3" y="473.6">19952.5</text>
<text class="ax" x="1623.3" y="506.6">19725.0</text>
<text class="ax" x="1623.3" y="539.6">19504.0</text>
<text class="ax" x="1623.3" y="572.6">19276.5</text>
<text class="ax" x="1623.3" y="605.6">19055.5</text>
<text class="ax" x="1623.3" y="638.6">18834.5</text>
<g shape-rendering="crispEdges">
<rect x="1619" y="262" width="41" height="11" fill="#f00"/>
<rect x="1619" y="292" width="41" height="11" fill="#f00"/>
<rect x="1619" y="324" width="41" height="11" fill="#ff8c00"/>
<rect x="1619" y="366" width="41" height="11" fill="#00f"/>
<rect x="1619" y="396" width="41" height="11" fill="#00f"/>
<rect x="1619" y="337" width="41" height="11" fill="#000"/>
</g>
<text x="1623.3" y="270.8" class="wt ax">21319.8</text>
<text x="1623.3" y="300.8" class="wt ax">21116.7</text>
<text x="1623.3" y="332.8" class="wt ax">20900.1</text>
<text x="1623.3" y="374.8" class="wt ax">20615.8</text>
<text x="1623.3" y="404.8" class="wt ax">20412.7</text>
<text x="1623.3" y="345.8" class="wt ax">20818.5</text>
<polygon points="8,36 15,36 11.5,40" fill="#000"/>
<text x="20" y="40.6" xml:space="preserve">HK50-,H4  20833.5 20900.5 20753.5 20818.5</text>
<g shape-rendering="crispEdges" clip-path="url(#c2)">
<rect x="4" y="657" width="3" height="43" fill="#0f0"/>
<rect x="20" y="658" width="3" height="42" fill="#0f0"/>
<rect x="36" y="659" width="3" height="41" fill="#0f0"/>
<rect x="52" y="660" width="3" height="40" fill="#0f0"/>
<rect x="68" y="663" width="3" height="37" fill="#0f0"/>
<rect x="84" y="667" width="3" height="33" fill="#0f0"/>
<rect x="100" y="670" width="3" height="30" fill="#0f0"/>
<rect x="116" y="673" width="3" height="27" fill="#0f0"/>
<rect x="132" y="676" width="3" height="24" fill="#0f0"/>
<rect x="148" y="678" width="3" height="22" fill="#0f0"/>
<rect x="164" y="683" width="3" height="17" fill="#0f0"/>
<rect x="180" y="686" width="3" height="14" fill="#0f0"/>
<rect x="196" y="689" width="3" height="11" fill="#0f0"/>
<rect x="212" y="691" width="3" height="9" fill="#0f0"/>
<rect x="228" y="689" width="3" height="11" fill="#0f0"/>
<rect x="244" y="687" width="3" height="13" fill="#0f0"/>
<rect x="260" y="685" width="3" height="15" fill="#0f0"/>
<rect x="276" y="686" width="3" height="14" fill="#0f0"/>
<rect x="292" y="683" width="3" height="17" fill="#0f0"/>
<rect x="308" y="680" width="3" height="20" fill="#0f0"/>
<rect x="324" y="681" width="3" height="19" fill="#0f0"/>
<rect x="340" y="680" width="3" height="20" fill="#0f0"/>
<rect x="356" y="679" width="3" height="21" fill="#0f0"/>
<rect x="372" y="679" width="3" height="21" fill="#0f0"/>
<rect x="388" y="678" width="3" height="22" fill="#0f0"/>
<rect x="404" y="676" width="3" height="24" fill="#0f0"/>
<rect x="420" y="671" width="3" height="29" fill="#0f0"/>
<rect x="436" y="666" width="3" height="34" fill="#0f0"/>
<rect x="452" y="660" width="3" height="40" fill="#0f0"/>
<rect x="468" y="656" width="3" height="44" fill="#0f0"/>
<rect x="484" y="652" width="3" height="48" fill="#0f0"/>
<rect x="500" y="652" width="3" height="48" fill="#0f0"/>
<rect x="516" y="649" width="3" height="51" fill="#0f0"/>
<rect x="532" y="647" width="3" height="53" fill="#0f0"/>
<rect x="548" y="646" width="3" height="54" fill="#0f0"/>
<rect x="564" y="646" width="3" height="54" fill="#0f0"/>
<rect x="580" y="645" width="3" height="55" fill="#0f0"/>
<rect x="596" y="646" width="3" height="54" fill="#0f0"/>
<rect x="612" y="648" width="3" height="52" fill="#0f0"/>
<rect x="628" y="649" width="3" height="51" fill="#0f0"/>
<rect x="644" y="650" width="3" height="50" fill="#0f0"/>
<rect x="660" y="650" width="3" height="50" fill="#0f0"/>
<rect x="676" y="648" width="3" height="52" fill="#0f0"/>
<rect x="692" y="651" width="3" height="49" fill="#0f0"/>
<rect x="708" y="654" width="3" height="46" fill="#0f0"/>
<rect x="724" y="656" width="3" height="44" fill="#0f0"/>
<rect x="740" y="659" width="3" height="41" fill="#0f0"/>
<rect x="756" y="661" width="3" height="39" fill="#0f0"/>
<rect x="772" y="663" width="3" height="37" fill="#0f0"/>
<rect x="788" y="665" width="3" height="35" fill="#0f0"/>
<rect x="804" y="666" width="3" height="34" fill="#0f0"/>
<rect x="820" y="665" width="3" height="35" fill="#0f0"/>
<rect x="836" y="662" width="3" height="38" fill="#0f0"/>
<rect x="852" y="658" width="3" height="42" fill="#0f0"/>
<rect x="868" y="656" width="3" height="44" fill="#0f0"/>
<rect x="884" y="654" width="3" height="46" fill="#0f0"/>
<rect x="900" y="655" width="3" height="45" fill="#0f0"/>
<rect x="916" y="661" width="3" height="39" fill="#0f0"/>
<rect x="932" y="664" width="3" height="36" fill="#0f0"/>
<rect x="948" y="669" width="3" height="31" fill="#0f0"/>
<rect x="964" y="672" width="3" height="28" fill="#0f0"/>
<rect x="980" y="674" width="3" height="26" fill="#0f0"/>
<rect x="996" y="675" width="3" height="25" fill="#0f0"/>
<rect x="1012" y="677" width="3" height="23" fill="#0f0"/>
<rect x="1028" y="683" width="3" height="17" fill="#0f0"/>
<rect x="1044" y="687" width="3" height="13" fill="#0f0"/>
<rect x="1060" y="694" width="3" height="6" fill="#0f0"/>
<rect x="1076" y="700" width="3" height="1" fill="#0f0"/>
<rect x="1092" y="700" width="3" height="3" fill="#0f0"/>
<rect x="1108" y="700" width="3" height="6" fill="#0f0"/>
<rect x="1124" y="700" width="3" height="8" fill="#0f0"/>
<rect x="1140" y="700" width="3" height="10" fill="#0f0"/>
<rect x="1156" y="700" width="3" height="11" fill="#0f0"/>
<rect x="1172" y="700" width="3" height="9" fill="#0f0"/>
<rect x="1188" y="700" width="3" height="11" fill="#0f0"/>
<rect x="1204" y="700" width="3" height="13" fill="#0f0"/>
<rect x="1220" y="700" width="3" height="15" fill="#0f0"/>
<rect x="1236" y="700" width="3" height="16" fill="#0f0"/>
<rect x="1252" y="700" width="3" height="16" fill="#0f0"/>
<rect x="1268" y="700" width="3" height="17" fill="#0f0"/>
<rect x="1284" y="700" width="3" height="20" fill="#0f0"/>
<rect x="1300" y="700" width="3" height="22" fill="#0f0"/>
<polyline points="5,655 37,655 53,656 69,657 85,658.5 101,660.2 133,665 164,670 196,676 227,682.2 252,684.7 277,686.5 323,686.5 353,684.4 380,682.5 404,680.6 425,678.9 450,674.6 476,670.8 501,666.8 526,660.7 551,654.7 577,651.1 584,649.3 614,648.1 632,646.8 660,646.8 677,647.9 703,648.9 728,650.6 753,653.2 778,655.7 804,658.5 825,660.7 838,661.7 883,661.7 886,661 901,661 903,660 949,660 977,661.7 1002,664.5 1014,666.3 1027,670 1052,675.1 1077,680.9 1103,687 1128,692.8 1153,699 1166,702 1191,704.6 1221,709.7 1251,711.2 1277,712.4 1301,714" fill="none" stroke="#f00" stroke-width="2"/>
</g>
<text x="9.2" y="652.8">MACD(12,26,9) -194.80 -132.95</text>
<text x="1621.3" y="651.2">567.15</text><text x="1621.3" y="704">0.00</text><text x="1621.3" y="722">-231.08</text>
<g shape-rendering="crispEdges" clip-path="url(#c3)">
<line x1="6" y1="746.5" x2="1617" y2="746.5" stroke="#000" stroke-width="1" stroke-dasharray="3 3"/>
<line x1="6" y1="772.5" x2="1617" y2="772.5" stroke="#000" stroke-width="1" stroke-dasharray="3 3"/>
<line x1="6" y1="802.5" x2="1617" y2="802.5" stroke="#000" stroke-width="1" stroke-dasharray="3 3"/>
<polyline points="5,762.1 53,762.1 70.6,766.6 78,767.9 151,767.9 163,772.7 213,772.7 228,762.8 245,762.8 262,765.6 279,765.6 293,759.8 309,759.8 324,764.6 340.5,764.6 352,763.1 363,763.1 368,763.8 376,763.8 391,760 405,759.2 423,753.8 438,751 453,750.5 471,749.2 484.5,749.2 498,752.5 506,752.5 518.6,749.7 537.5,749.7 546,751.7 574,751.7 576.6,750.7 589,750.7 609,754.8 621,754.8 631,752.8 652,752.8 663.6,750.7 679,750.7 692.6,756.3 706.5,759.8 748,759.8 752,758.8 772,758.8 776,759.8 792,759.8 806,757 820,755.8 838,750.2 846.7,749 887,749 901,755.8 916,762.8 931,767.9 964,767.9 976.6,765.6 994,763.8 1002,763.8 1013,765.6 1028,774.7 1043.5,774.7 1060,780.8 1076,780.8 1090,778 1132,778 1135.5,779 1144,779 1158,776.2 1173,771.7 1187,777.7 1203.6,777.7 1214,779.7 1229,779.7 1239,777.7 1261.5,777.7 1271.5,779.7 1286.7,784 1302,784" fill="none" stroke="#1e90ff" stroke-width="2"/>
</g>
<text x="9.2" y="739.9">RSI(15) 36.7796</text>
<text x="1621.3" y="738">100</text><text x="1620" y="750">80</text><text x="1620" y="776">50</text><text x="1620" y="806">15</text><text x="1621.3" y="813">0</text>
<text x="4.6" y="829">13 Dec 2022</text>
<text x="68.6" y="829">15 Dec 01:15</text>
<text x="132.6" y="829">19 Dec 01:15</text>
<text x="196.6" y="829">21 Dec 01:15</text>
<text x="260.6" y="829">23 Dec 01:15</text>
<text x="324.6" y="829">29 Dec 01:15</text>
<text x="388.6" y="829">3 Jan 01:15</text>
<text x="452.6" y="829">5 Jan 01:15</text>
<text x="516.6" y="829">9 Jan 01:15</text>
<text x="580.6" y="829">11 Jan 01:15</text>
<text x="644.6" y="829">13 Jan 01:15</text>
<text x="708.6" y="829">17 Jan 01:15</text>
<text x="772.6" y="829">19 Jan 01:15</text>
<text x="836.6" y="829">26 Jan 01:15</text>
<text x="900.6" y="829">30 Jan 01:15</text>
<text x="964.6" y="829">1 Feb 01:15</text>
<text x="1028.6" y="829">3 Feb 01:15</text>
<text x="1092.6" y="829">7 Feb 01:15</text>
<text x="1156.6" y="829">9 Feb 01:15</text>
<text x="1220.6" y="829">13 Feb 01:15</text>
<text x="1284.6" y="829">15 Feb 01:15</text>
</svg>
</body></html>
